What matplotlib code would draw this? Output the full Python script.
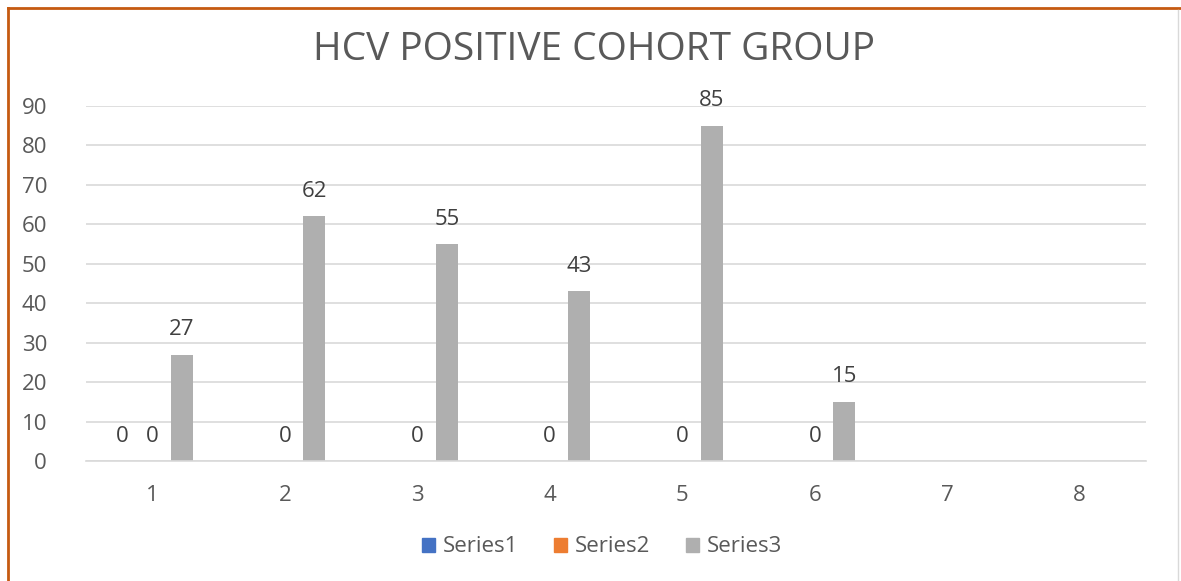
import numpy as np
import matplotlib.pyplot as plt
from matplotlib.lines import Line2D

categories = ["1", "2", "3", "4", "5", "6", "7", "8"]
series1 = [0, None, None, None, None, None, None, None]
series2 = [0, 0, 0, 0, 0, 0, None, None]
series3 = [27, 62, 55, 43, 85, 15, None, None]
names = ["Series1", "Series2", "Series3"]
colors = ["#4472c4", "#ed7d31", "#afafaf"]

plt.rcParams['font.family'] = ['Open Sans', 'DejaVu Sans']
txt = "#595959"

fig = plt.figure(figsize=(11.81, 5.81), dpi=100)
ax = fig.add_axes([86 / 1181, 1 - 461 / 581, 1060 / 1181, 355 / 581])

x = np.arange(len(categories))
offsets = [-0.223, 0.0, 0.223]
width = 0.166
for vals, off, col in zip([series1, series2, series3], offsets, colors):
    for xi, v in zip(x, vals):
        if v is None:
            continue
        ax.bar(xi + off, v, width, color=col)
        ax.text(xi + off, v + 6.3, str(v), ha="center", va="center",
                fontsize=16, color="#404040")

ax.set_xlim(-0.5, len(categories) - 0.5)
ax.set_ylim(0, 90)
ax.set_yticks(range(0, 91, 10))
ax.set_xticks(x)
ax.set_xticklabels(categories)
ax.yaxis.grid(True, color="#d9d9d9", linewidth=1.2)
ax.set_axisbelow(True)
for s in ["top", "right", "left"]:
    ax.spines[s].set_visible(False)
ax.spines["bottom"].set_color("#d9d9d9")
ax.spines["bottom"].set_linewidth(1.2)
ax.tick_params(length=0, labelsize=16, labelcolor=txt)
ax.tick_params(axis="x", pad=17)
ax.tick_params(axis="y", pad=28)

fig.text(594 / 1181, 1 - 50 / 581, "HCV POSITIVE COHORT GROUP", ha="center",
         va="center", fontsize=28, color=txt)

handles = [plt.Rectangle((0, 0), 1, 1, color=c) for c in colors]
fig.legend(handles, names, loc="center", bbox_to_anchor=(602 / 1181, 1 - 547 / 581),
           ncol=3, frameon=False, fontsize=16, labelcolor=txt,
           handlelength=0.6, handleheight=0.6, handletextpad=0.35, columnspacing=1.6)

# outer frame: orange top and left edge, light right edge
fig.add_artist(Line2D([8 / 1181, 1], [1 - 8 / 581, 1 - 8 / 581], color="#c55a11", linewidth=2))
fig.add_artist(Line2D([8 / 1181, 8 / 1181], [0, 1 - 8 / 581], color="#c55a11", linewidth=2))
fig.add_artist(Line2D([1178 / 1181, 1178 / 1181], [0, 1 - 10 / 581], color="#d9d9d9", linewidth=1))

fig.savefig("out.png", dpi=100)
